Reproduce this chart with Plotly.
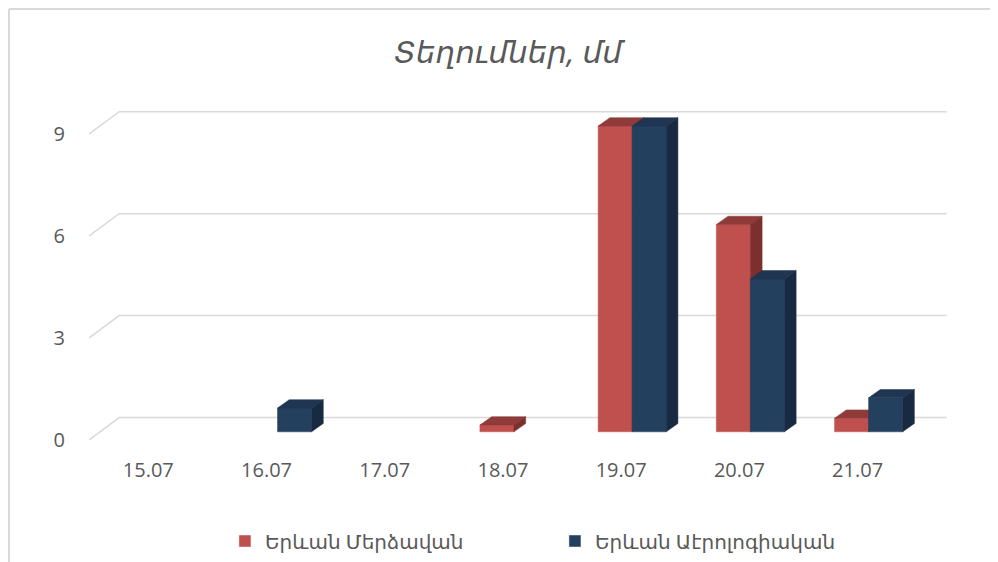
import plotly.graph_objects as go

# ── data ──────────────────────────────────────────────────────────────────────
categories = ["15.07", "16.07", "17.07", "18.07", "19.07", "20.07", "21.07"]
merdzavan = [0, 0, 0, 0.2, 9.0, 6.1, 0.4]
aerologic = [0, 0.7, 0, 0, 9.0, 4.5, 1.0]
series_names = ["Երևան Մերձավան", "Երևան Աէրոլոգիական"]
y_ticks = [0, 3, 6, 9]

# ── fake 3D geometry (data units) ─────────────────────────────────────────────
BW = 0.288            # width of one bar
DX, DY = 0.099, 0.245  # bar depth
FX, FY = 0.093, 0.235  # bar front -> floor front edge
BX, BY = 0.161, 0.42   # bar front -> back wall

styles = [
    dict(front="#C0504D", top="#8E3B39", side="#7B302E", off=-BW),
    dict(front="#24405F", top="#1F3552", side="#182A41", off=0.0),
]

fig = go.Figure()

# back wall gridlines with left floor diagonal
gx, gy = [], []
for t in y_ticks:
    gx += [-0.5 - FX, -0.5 + BX, len(categories) - 0.5 + BX, None]
    gy += [t - FY, t + BY, t + BY, None]
fig.add_trace(go.Scatter(x=gx, y=gy, mode="lines", line=dict(color="#D9D9D9", width=1.5),
                         hoverinfo="skip", showlegend=False))


def faces(vals, off):
    fr, tp, sd = ([], []), ([], []), ([], [])
    for i, v in enumerate(vals):
        if not v:
            continue
        x0, x1 = i + off, i + off + BW
        fr[0].extend([x0, x1, x1, x0, x0, None]); fr[1].extend([0, 0, v, v, 0, None])
        tp[0].extend([x0, x1, x1 + DX, x0 + DX, x0, None]); tp[1].extend([v, v, v + DY, v + DY, v, None])
        sd[0].extend([x1, x1 + DX, x1 + DX, x1, x1, None]); sd[1].extend([0, DY, v + DY, v, 0, None])
    return fr, tp, sd


for name, vals, st in zip(series_names, [merdzavan, aerologic], styles):
    fr, tp, sd = faces(vals, st["off"])
    for (xs, ys), col in [(fr, st["front"]), (tp, st["top"]), (sd, st["side"])]:
        fig.add_trace(go.Scatter(x=xs, y=ys, mode="lines", fill="toself", fillcolor=col,
                                 line=dict(color=col, width=0.5), hoverinfo="skip",
                                 showlegend=False))
    # legend entry only
    fig.add_trace(go.Bar(x=[None], y=[None], name=name, marker_color=st["front"]))

# page body adds an 8px margin, so the figure is 8px smaller and everything shifted
W, H = 990, 554
L, T, PW, PH = 78, 101, 863, 333
fig.update_layout(
    width=W, height=H,
    margin=dict(l=L, r=W - L - PW, t=T, b=H - T - PH, pad=0, autoexpand=False),
    plot_bgcolor="white", paper_bgcolor="white",
    font=dict(family="Open Sans, DejaVu Sans", color="#595959", size=20),
    title=dict(text="<i>Տեղումներ, մմ</i>", x=0.505, xref="container", xanchor="center",
               y=1 - 44 / H, yref="container", yanchor="middle",
               font=dict(size=31, color="#595959")),
    xaxis=dict(range=[-0.62, 6.68], tickvals=[i - FX for i in range(len(categories))],
               ticktext=categories, showgrid=False, zeroline=False, showline=False,
               ticks="", ticklabelstandoff=14, fixedrange=True),
    yaxis=dict(range=[-0.3, 9.5], tickvals=[t - FY for t in y_ticks],
               ticktext=[str(t) for t in y_ticks], showgrid=False, zeroline=False,
               showline=False, ticks="", ticklabelstandoff=20, fixedrange=True),
    legend=dict(orientation="h", x=0.161, xanchor="left",
                y=(H - 533) / H, yref="container", yanchor="middle",
                font=dict(size=20, color="#595959"), entrywidth=285, entrywidthmode="pixels",
                bgcolor="rgba(0,0,0,0)"),
    shapes=[
        dict(type="line", xref="paper", yref="paper", x0=(1 - L) / PW, x1=(1 - L) / PW,
             y0=(T + PH - 1) / PH, y1=(T + PH - 560) / PH, line=dict(color="#D9D9D9", width=2)),
        dict(type="line", xref="paper", yref="paper", x0=(1 - L) / PW, x1=(995 - L) / PW,
             y0=(T + PH - 1) / PH, y1=(T + PH - 1) / PH, line=dict(color="#D9D9D9", width=2)),
    ],
)

fig.write_html("out.html")
